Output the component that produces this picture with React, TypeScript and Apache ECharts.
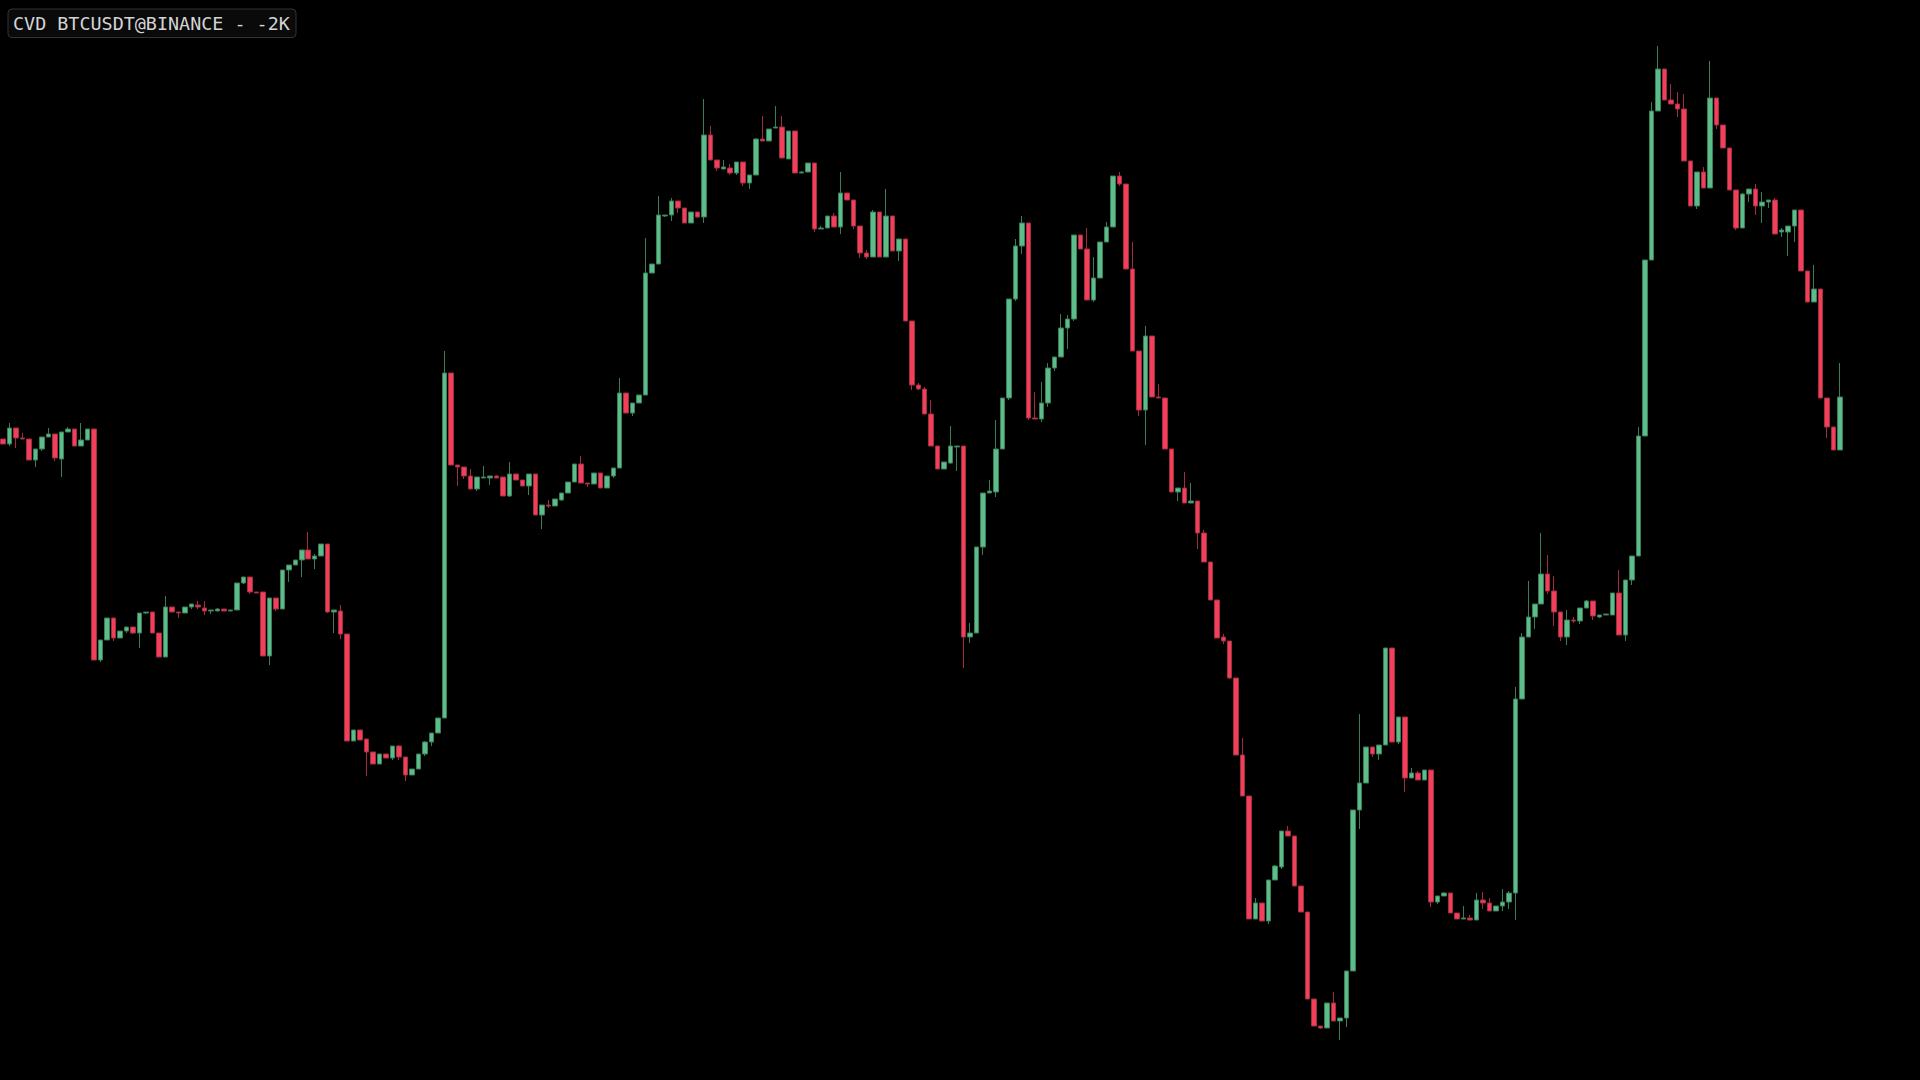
import React, { useEffect, useRef } from "react";
import * as echarts from "echarts";

const TITLE = "CVD BTCUSDT@BINANCE - -2K";

// [open, close, low, high]
const candles: number[][] = [
  [561, 556, 556, 561], [556, 572, 554, 577], [572, 562, 552, 572], [562, 561, 561, 567],
  [561, 540, 540, 561], [540, 551, 533, 551], [551, 563, 549, 563], [563, 566, 563, 572],
  [566, 542, 539, 566], [541, 568, 523, 568], [568, 571, 568, 573], [571, 554, 554, 571],
  [554, 560, 554, 577], [560, 571, 560, 571], [571, 340, 340, 571], [340, 360, 338, 360],
  [360, 382, 360, 382], [382, 362, 359, 382], [362, 369, 362, 369], [369, 373, 367, 373],
  [373, 367, 366, 373], [367, 387, 352, 387], [387, 388, 386, 388], [388, 367, 367, 388],
  [367, 343, 343, 367], [343, 393, 343, 404], [393, 388, 388, 393], [388, 387, 382, 388],
  [387, 393, 387, 393], [393, 396, 391, 396], [395, 393, 391, 399], [392, 389, 385, 399],
  [389, 390, 386, 390], [389, 391, 389, 392], [391, 389, 389, 391], [389, 390, 389, 390],
  [390, 417, 390, 417], [417, 423, 416, 423], [423, 408, 406, 423], [408, 407, 407, 408],
  [408, 344, 344, 408], [344, 402, 335, 402], [402, 391, 389, 402], [391, 430, 391, 430],
  [430, 435, 418, 435], [435, 440, 435, 440], [440, 450, 423, 450], [450, 441, 441, 468],
  [441, 444, 431, 446], [444, 456, 444, 456], [456, 388, 387, 456], [388, 390, 367, 390],
  [389, 366, 361, 395], [366, 259, 259, 366], [259, 270, 259, 270], [270, 260, 260, 270],
  [261, 248, 224, 261], [248, 236, 236, 248], [236, 246, 236, 246], [246, 242, 242, 246],
  [242, 254, 240, 254], [254, 243, 240, 255], [243, 225, 219, 243], [225, 231, 225, 231],
  [231, 246, 231, 246], [246, 258, 244, 259], [258, 267, 254, 267], [267, 282, 267, 282],
  [282, 627, 282, 649], [627, 535, 535, 627], [535, 533, 514, 535], [533, 524, 521, 533],
  [524, 511, 511, 531], [511, 523, 509, 523], [522, 523, 522, 534], [522, 524, 515, 524],
  [524, 522, 522, 525], [523, 504, 504, 523], [504, 526, 503, 538], [526, 520, 520, 526],
  [520, 514, 514, 520], [514, 526, 505, 526], [526, 485, 485, 526], [485, 495, 471, 495],
  [495, 494, 492, 500], [494, 501, 494, 501], [500, 507, 499, 507], [507, 518, 507, 518],
  [518, 536, 518, 536], [536, 517, 517, 544], [517, 516, 513, 517], [516, 527, 516, 527],
  [527, 512, 512, 527], [512, 524, 512, 524], [524, 532, 522, 532], [532, 607, 532, 622],
  [607, 587, 587, 607], [587, 597, 584, 597], [597, 605, 597, 605], [605, 727, 605, 762],
  [727, 736, 727, 736], [736, 785, 736, 804], [784, 785, 783, 785], [785, 799, 779, 802],
  [799, 792, 787, 799], [792, 777, 777, 792], [777, 788, 777, 788], [788, 783, 782, 788],
  [783, 865, 777, 901], [865, 840, 840, 874], [840, 832, 829, 840], [831, 833, 831, 840],
  [832, 827, 825, 836], [827, 838, 825, 838], [838, 817, 814, 838], [817, 825, 811, 825],
  [825, 861, 825, 862], [861, 859, 859, 884], [859, 871, 859, 871], [872, 873, 872, 894],
  [873, 842, 842, 884], [841, 869, 841, 869], [869, 827, 827, 869], [827, 828, 827, 829],
  [828, 837, 828, 837], [837, 771, 768, 837], [771, 772, 771, 774], [772, 784, 772, 784],
  [784, 773, 773, 787], [773, 807, 766, 828], [807, 800, 800, 807], [800, 774, 771, 800],
  [774, 747, 742, 774], [747, 743, 741, 750], [743, 788, 743, 790], [788, 743, 743, 788],
  [743, 784, 743, 811], [784, 749, 749, 784], [749, 761, 739, 761], [761, 679, 679, 761],
  [679, 615, 610, 679], [615, 611, 610, 617], [611, 586, 586, 613], [586, 554, 554, 600],
  [554, 531, 531, 554], [531, 538, 531, 538], [537, 554, 536, 574], [553, 554, 529, 554],
  [554, 363, 332, 554], [363, 367, 357, 377], [367, 453, 367, 453], [453, 507, 445, 507],
  [507, 509, 507, 520], [508, 551, 503, 580], [551, 602, 551, 602], [602, 701, 600, 701],
  [701, 754, 699, 761], [754, 777, 746, 784], [777, 582, 580, 777], [582, 581, 581, 608],
  [581, 597, 578, 618], [597, 632, 593, 637], [632, 643, 629, 643], [643, 672, 643, 686],
  [672, 681, 651, 685], [681, 765, 679, 765], [765, 751, 751, 765], [751, 700, 700, 772],
  [700, 722, 698, 743], [722, 758, 722, 758], [758, 773, 758, 778], [773, 824, 773, 824],
  [824, 816, 814, 828], [816, 731, 731, 816], [731, 649, 649, 758], [649, 590, 584, 649],
  [590, 664, 555, 674], [664, 603, 603, 664], [603, 602, 602, 616], [602, 551, 551, 602],
  [551, 508, 508, 551], [508, 512, 499, 512], [512, 497, 497, 528], [497, 499, 497, 517],
  [499, 467, 451, 499], [467, 438, 438, 470], [438, 400, 400, 438], [400, 362, 362, 400],
  [363, 359, 356, 366], [359, 322, 321, 359], [322, 245, 245, 322], [245, 204, 204, 262],
  [204, 81, 81, 204], [81, 97, 81, 102], [97, 79, 79, 97], [79, 120, 76, 120],
  [120, 134, 120, 135], [133, 169, 131, 169], [169, 164, 164, 174], [164, 114, 114, 164],
  [114, 88, 88, 114], [88, 1, 1, 88], [1, -26, -26, 1], [-26, -28, -29, -26],
  [-28, -3, -28, -3], [-3, -21, -21, 8], [-21, -18, -40, -18], [-18, 29, -27, 29],
  [29, 190, 29, 190], [190, 217, 171, 286], [217, 253, 217, 253], [253, 246, 243, 253],
  [246, 255, 240, 255], [255, 352, 255, 352], [352, 258, 258, 352], [258, 283, 256, 283],
  [283, 222, 208, 283], [222, 227, 222, 232], [227, 220, 220, 229], [220, 230, 220, 230],
  [230, 98, 93, 230], [98, 104, 96, 104], [104, 107, 104, 108], [107, 87, 87, 107],
  [87, 81, 81, 87], [81, 82, 81, 94], [82, 80, 80, 85], [80, 100, 80, 107],
  [100, 97, 91, 108], [97, 89, 89, 102], [89, 94, 89, 94], [94, 98, 89, 111],
  [98, 107, 91, 109], [107, 301, 80, 313], [301, 363, 301, 367], [363, 383, 363, 419],
  [383, 396, 371, 396], [396, 426, 396, 467], [426, 409, 406, 445], [409, 388, 374, 424],
  [388, 363, 359, 388], [363, 380, 355, 390], [380, 379, 377, 383], [379, 392, 376, 392],
  [392, 399, 392, 400], [399, 384, 380, 399], [383, 385, 382, 385], [385, 386, 385, 386],
  [385, 407, 385, 407], [407, 365, 365, 430], [365, 420, 359, 420], [420, 444, 415, 444],
  [444, 564, 444, 573], [564, 740, 564, 740], [740, 889, 740, 898], [889, 931, 889, 954],
  [931, 900, 900, 931], [900, 896, 896, 916], [896, 891, 883, 908], [891, 839, 839, 906],
  [839, 794, 794, 839], [794, 828, 791, 828], [828, 812, 812, 833], [812, 902, 812, 939],
  [902, 875, 871, 902], [875, 852, 852, 875], [852, 810, 810, 852], [810, 772, 770, 810],
  [772, 806, 772, 807], [806, 811, 798, 811], [811, 794, 785, 816], [794, 798, 777, 808],
  [798, 800, 792, 800], [800, 766, 766, 802], [768, 770, 763, 772], [768, 774, 744, 774],
  [774, 790, 758, 790], [790, 729, 729, 790], [729, 698, 698, 729], [698, 711, 698, 735],
  [711, 602, 602, 711], [602, 573, 562, 602], [573, 550, 550, 573], [550, 603, 550, 637],
];

const categories = candles.map((_, i) => String(i + 1));

const UP_FILL = "#5dbd8a";
const DOWN_FILL = "#f2405a";
const UP_BORDER = "#3a7d57";
const DOWN_BORDER = "#a12d40";

export default function App() {
  const ref = useRef<HTMLDivElement>(null);

  useEffect(() => {
    document.body.style.margin = "0";
    document.body.style.background = "#000";
    const chart = echarts.init(ref.current!, null, { renderer: "svg" });
    chart.setOption({
      animation: false,
      backgroundColor: "#000",
      grid: { left: 0, right: 77, top: 0, bottom: 0 },
      xAxis: {
        type: "category",
        data: categories,
        boundaryGap: true,
        show: false,
      },
      yAxis: {
        type: "value",
        min: -80,
        max: 1000,
        show: false,
        splitLine: { show: false },
      },
      series: [
        {
          type: "candlestick",
          data: candles,
          barWidth: 5,
          itemStyle: {
            color: UP_FILL,
            color0: DOWN_FILL,
            borderColor: UP_BORDER,
            borderColor0: DOWN_BORDER,
            borderColorDoji: UP_BORDER,
            borderWidth: 1,
          },
        },
      ],
      graphic: [
        {
          type: "rect",
          left: 7.5,
          top: 8.5,
          shape: { width: 288, height: 28.5, r: 4 },
          style: { fill: "#0a0a0a", stroke: "#333333", lineWidth: 1 },
          z: 10,
        },
        {
          type: "text",
          x: 13,
          y: 23,
          style: {
            text: TITLE,
            fill: "#d4d4d4",
            font: '18.4px "DejaVu Sans Mono", monospace',
            verticalAlign: "middle",
            align: "left",
          },
          z: 11,
        },
      ],
    });
    return () => chart.dispose();
  }, []);

  return (
    <div
      ref={ref}
      style={{ position: "fixed", left: 0, top: 0, width: 1920, height: 1080 }}
    />
  );
}
